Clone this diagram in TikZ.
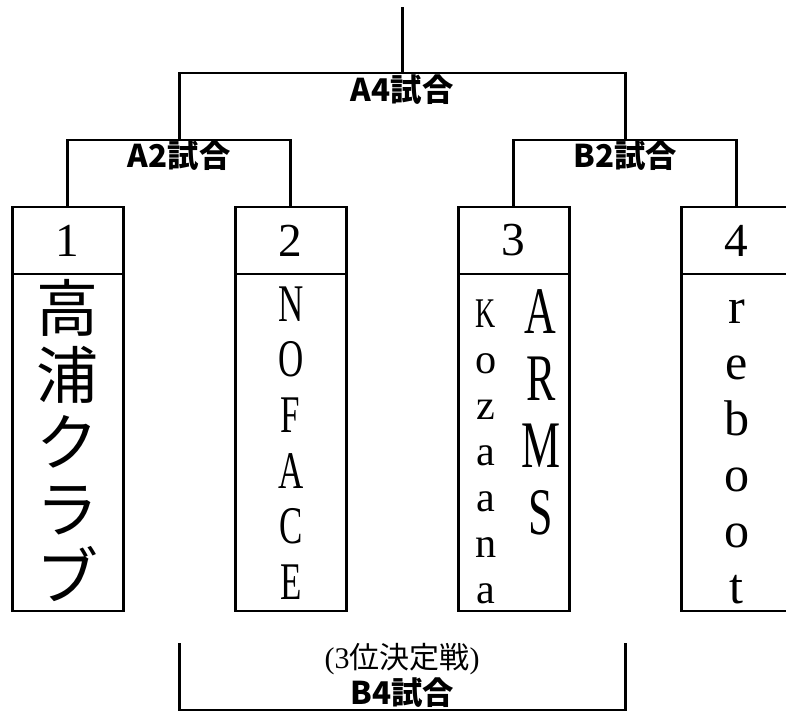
\documentclass[tikz,border=0pt]{standalone}
\usepackage{fontspec}
\setmainfont{Liberation Serif}
\newfontfamily\jpfont{Noto Sans CJK JP}
\newfontfamily\jpheavy{Noto Sans CJK JP Black}
\newfontfamily\narrowserif[FakeStretch=0.66]{Liberation Serif}
\usetikzlibrary{positioning}
\begin{document}
\begin{tikzpicture}[x=0.75pt,y=-0.75pt,line width=2.1pt,
        numbox/.style={draw,rectangle,outer sep=0pt,inner sep=0pt,minimum width=83.25pt,minimum height=50.25pt,font=\fontsize{35.5}{36}\selectfont},
        namebox/.style={draw,rectangle,outer sep=0pt,inner sep=0pt,minimum width=83.25pt,minimum height=252.75pt},
        namecol/.style={anchor=north,inner sep=0pt,align=center},
        matchlabel/.style={inner sep=0pt,font=\jpheavy\fontsize{23.5}{25}\selectfont}]
        \useasboundingbox (0,0) rectangle (786,713);
        \foreach \i/\x in {1/67.7,2/290.7,3/513.7,4/736.7}{
          \node[numbox] (n\i) at (\x,240.5) {\i};
          \node[namebox,below=0pt of n\i] (t\i) {};
        }
        \node[namecol,font=\jpfont\fontsize{46.5}{50.3}\selectfont] (name1) at (67.7,278) {高\\浦\\ク\\ラ\\ブ};
        \node[namecol,font=\narrowserif\fontsize{39.7}{41.8}\selectfont] (name2) at (290.7,285) {N\\O\\F\\A\\C\\E};
        \node[namecol,font=\fontsize{31.7}{34.5}\selectfont] (name3a) at (486,298) {{\narrowserif K}\\o\\z\\a\\a\\n\\a};
        \node[namecol,font=\narrowserif\fontsize{49.9}{50.3}\selectfont] (name3b) at (540.7,288) {A\\R\\M\\S};
        \node[namecol,font=\fontsize{37.6}{42}\selectfont] (name4) at (736.7,298) {r\\e\\b\\o\\o\\t};
        \coordinate (top) at (402.2,7);
        \coordinate (a4) at (402.2,73);
        \coordinate (a2) at (179.2,140);
        \coordinate (b2) at (625.2,140);
        \draw (n1.north) |- (a2) -| (n2.north);
        \draw (n3.north) |- (b2) -| (n4.north);
        \draw (a2) |- (a4) -| (b2);
        \draw (a4) -- (top);
        \node[matchlabel] (a4lbl) at (402.2,90) {A4試合};
        \node[matchlabel] (a2lbl) at (179.2,156) {A2試合};
        \node[matchlabel] (b2lbl) at (625.2,156) {B2試合};
        \coordinate (b4l) at (179.2,643);
        \coordinate (b4r) at (625.2,643);
        \coordinate (b4) at (402.2,710);
        \draw (b4l) |- (b4) -| (b4r);
        \node[inner sep=0pt,font=\fontsize{22.5}{24}\selectfont] (b4note) at (402.2,659) {(3{\jpfont 位決定戦})};
        \node[matchlabel] (b4lbl) at (402.2,693) {B4試合};
      \end{tikzpicture}
\end{document}
